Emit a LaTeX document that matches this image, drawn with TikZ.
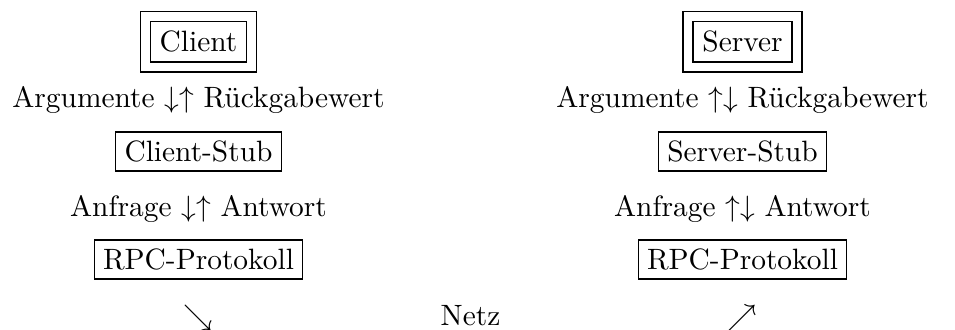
\documentclass[tikz,border=0pt]{standalone}
\usepackage{amsmath,amssymb}
\usepackage{tikz}

\tikzset{
  box/.style={draw, inner sep=3pt, anchor=base},
  dbox/.style={draw, double, double distance=3pt, inner sep=4.9pt, anchor=base},
  lbl/.style={inner sep=0pt, anchor=base}
}

\begin{document}
\begin{tikzpicture}[x=0.34pt, y=-0.34pt]
\useasboundingbox (0,0) rectangle (955,329);

% Client side
\node[dbox] (client) at (198.5,52) {Client};
\node[lbl] (argc) at (198.5,107.5) {Argumente $\downarrow\uparrow$ Rückgabewert};
\node[box] (cstub) at (198.5,161.5) {Client-Stub};
\node[lbl] (anfc) at (198.5,216.5) {Anfrage $\downarrow\uparrow$ Antwort};
\node[box] (rpcc) at (198.5,269.5) {RPC-Protokoll};
\node[lbl] (outc) at (198.5,325) {$\searrow$};

% Netz
\node[lbl] (netz) at (470.5,325) {Netz};

% Server side
\node[dbox] (server) at (742.5,52) {Server};
\node[lbl] (args) at (742.5,107.5) {Argumente $\uparrow\downarrow$ Rückgabewert};
\node[box] (sstub) at (742.5,161.5) {Server-Stub};
\node[lbl] (anfs) at (742.5,216.5) {Anfrage $\uparrow\downarrow$ Antwort};
\node[box] (rpcs) at (742.5,269.5) {RPC-Protokoll};
\node[lbl] (ins) at (742.5,325) {$\nearrow$};

\end{tikzpicture}
\end{document}
